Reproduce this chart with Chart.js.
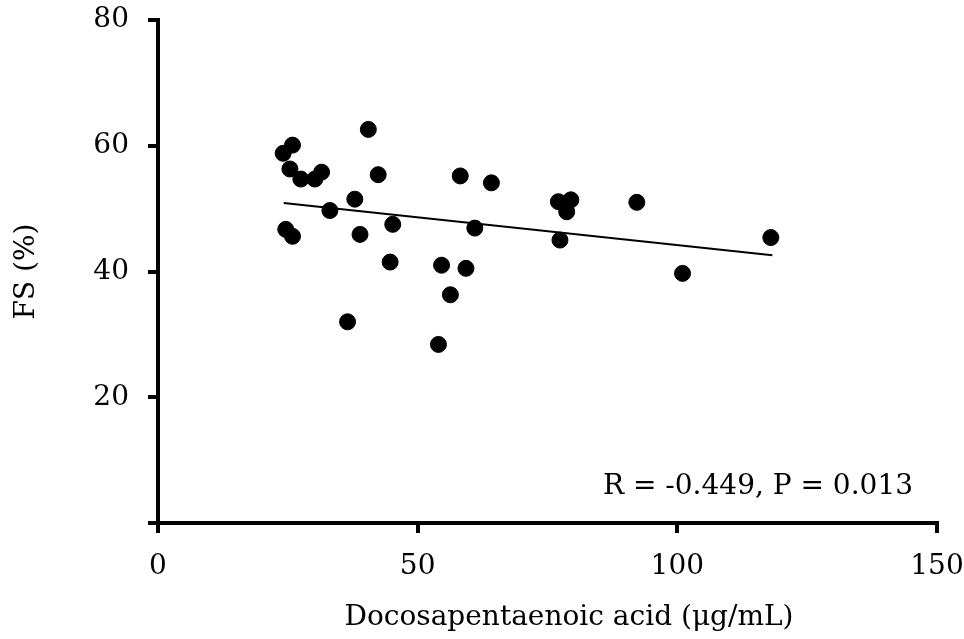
<!DOCTYPE html>
<html>
<head>
<meta charset="utf-8">
<script src="https://cdn.jsdelivr.net/npm/chart.js@4.4.1/dist/chart.umd.min.js"></script>
<style>
  body { margin: 0; background: #fff; }
  canvas { display: block; }
</style>
</head>
<body>
<canvas id="scatter" width="964" height="639"></canvas>
<script>
// data
const dpaValues = [24.1, 25.9, 25.4, 27.5, 30.2, 31.5, 24.6, 25.9, 33.1, 37.9,
  40.5, 42.4, 38.9, 45.2, 44.7, 36.5, 54.6, 56.3, 54.0, 58.2,
  59.3, 61.0, 64.2, 77.1, 79.5, 78.7, 77.4, 92.2, 101.0, 118.0]
const fsValues = [58.8, 60.1, 56.3, 54.7, 54.7, 55.8, 46.7, 45.6, 49.7, 51.5,
  62.6, 55.4, 45.9, 47.5, 41.5, 32.0, 41.0, 36.3, 28.4, 55.2,
  40.5, 46.9, 54.1, 51.1, 51.4, 49.5, 45.0, 51.0, 39.7, 45.4]

const trendX = [24.2, 118.3]
const trendY = [50.9, 42.6]

const xTicks = [0, 50, 100, 150]
const yTicks = [20, 40, 60, 80]

const xTitle = 'Docosapentaenoic acid (μg/mL)'
const yTitle = 'FS (%)'
const statText = 'R = -0.449, P = 0.013'

const FONT = "'DejaVu Serif', serif"

const points = dpaValues.map((v, i) => ({ x: v, y: fsValues[i] }))
const trend = trendX.map((v, i) => ({ x: v, y: trendY[i] }))

// x title and the R / P note
const textPlugin = {
  id: 'textPlugin',
  afterDraw(chart) {
    const ctx = chart.ctx
    ctx.save()
    ctx.fillStyle = '#000'
    ctx.font = '28px ' + FONT
    ctx.textBaseline = 'middle'
    ctx.textAlign = 'center'
    ctx.fillText(xTitle, 569, 618)
    ctx.textAlign = 'left'
    ctx.fillText(statText, 603, 487)
    ctx.restore()
  }
}

const config = {
  type: 'scatter',
  data: {
    datasets: [
      {
        label: 'FS',
        data: points,
        backgroundColor: '#000',
        borderColor: '#000',
        pointRadius: 8,
        pointHoverRadius: 8
      },
      {
        label: 'trend',
        data: trend,
        showLine: true,
        borderColor: '#000',
        borderWidth: 2,
        pointRadius: 0,
        fill: false
      }
    ]
  },
  options: {
    responsive: false,
    animation: false,
    layout: { padding: { top: 20, right: 27, left: 0, bottom: 0 } },
    plugins: {
      legend: { display: false },
      tooltip: { enabled: false }
    },
    scales: {
      x: {
        type: 'linear',
        min: 0,
        max: 150,
        afterBuildTicks: (scale) => { scale.ticks = xTicks.map(v => ({ value: v })) },
        afterFit: (scale) => {
          scale.height = 116
          scale.paddingLeft = 0
          scale.paddingRight = 0
        },
        border: { display: true, color: '#000', width: 4 },
        grid: { drawOnChartArea: false, color: '#000', lineWidth: 4, tickLength: 10 },
        ticks: { color: '#000', font: { family: FONT, size: 28 }, padding: 17, maxRotation: 0 }
      },
      y: {
        type: 'linear',
        min: 0,
        max: 80,
        afterBuildTicks: (scale) => { scale.ticks = [0].concat(yTicks).map(v => ({ value: v })) },
        afterFit: (scale) => {
          scale.width = 158
          scale.paddingTop = 0
          scale.paddingBottom = 0
        },
        border: { display: true, color: '#000', width: 4 },
        grid: { drawOnChartArea: false, color: '#000', lineWidth: 4, tickLength: 10 },
        ticks: {
          color: '#000',
          font: { family: FONT, size: 28 },
          padding: 19,
          callback: (v) => (v === 0 ? '' : v)
        },
        title: {
          display: true,
          text: yTitle,
          color: '#000',
          font: { family: FONT, size: 28 },
          padding: { top: 10, bottom: 0 }
        }
      }
    }
  },
  plugins: [textPlugin]
}

const myChart = new Chart(document.getElementById('scatter'), config)
</script>
</body>
</html>
